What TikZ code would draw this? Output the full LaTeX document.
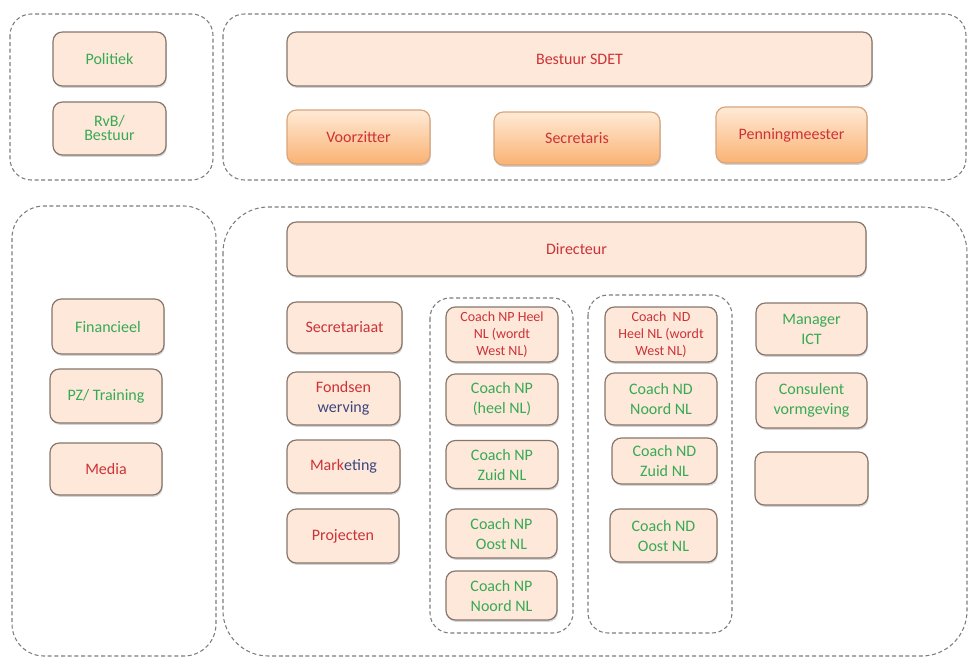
\documentclass[tikz,border=0pt]{standalone}
\usepackage{fontspec}
\setmainfont{Carlito}
\usepackage{xcolor}
\usepackage{tikz}
\usetikzlibrary{shadows,backgrounds}

\definecolor{boxfill}{RGB}{253,232,218}
\definecolor{boxline}{RGB}{135,118,108}
\definecolor{orangetop}{RGB}{255,234,214}
\definecolor{orangebot}{RGB}{250,178,115}
\definecolor{orangeline}{RGB}{215,165,125}
\definecolor{txtgreen}{RGB}{55,170,85}
\definecolor{txtred}{RGB}{205,50,55}
\definecolor{txtblue}{RGB}{60,70,125}
\definecolor{dashgray}{RGB}{125,125,125}

\begin{document}
\begin{tikzpicture}[x=0.75pt, y=-0.75pt,
  unit/.style={draw=boxline, line width=0.9pt, fill=boxfill, rounded corners=7pt, align=center, inner sep=2pt,
    font=\fontsize{12}{15}\selectfont, drop shadow={shadow xshift=0.6pt, shadow yshift=-1.4pt, opacity=0.35}},
  officer/.style={unit, draw=orangeline, top color=orangetop, bottom color=orangebot},
  smalltxt/.style={font=\fontsize{10.5}{12.5}\selectfont},
  group/.style={draw=dashgray, line width=0.8pt, dash pattern=on 3pt off 2pt},
  green/.style={text=txtgreen}, red/.style={text=txtred}]
\useasboundingbox (0,0) rectangle (968,657);

% groepen
\draw[group, rounded corners=16pt] (10,14) rectangle (213,180);
\draw[group, rounded corners=16pt] (223,14) rectangle (966,180);
\draw[group, rounded corners=24pt] (12,206) rectangle (216,656);
\draw[group, rounded corners=34pt] (223,207) rectangle (967,656);
\draw[group, rounded corners=15pt] (430,298) rectangle (573,633);
\draw[group, rounded corners=15pt] (588,295) rectangle (732,633);

% bestuur
\node (politiek) [unit, green, minimum width=84.75pt, minimum height=40.5pt] at (109.5,59) {Politiek};
\node (rvb) [unit, green, minimum width=84.75pt, minimum height=39.75pt, font=\fontsize{12}{10.5}\selectfont] at (109.5,128.5) {RvB/\\Bestuur};
\node (bestuur) [unit, red, minimum width=438.75pt, minimum height=40.5pt] at (579.5,59) {Bestuur SDET};
\node (voorzitter) [officer, red, minimum width=107.25pt, minimum height=40.5pt] at (358.5,137) {Voorzitter};
\node (secretaris) [officer, red, minimum width=124.5pt, minimum height=39.75pt] at (577,138.5) {Secretaris};
\node (penning) [officer, red, minimum width=113.25pt, minimum height=42pt] at (791.5,135) {Penningmeester};

% bureau
\node (directeur) [unit, red, minimum width=434.25pt, minimum height=40.5pt] at (576.5,249) {Directeur};
\node (financieel) [unit, green, minimum width=84pt, minimum height=41.25pt] at (108,326.5) {Financieel};
\node (pz) [unit, green, minimum width=84pt, minimum height=40.5pt] at (106,396) {PZ/ Training};
\node (media) [unit, red, minimum width=84pt, minimum height=39pt] at (106,469) {Media};

\node (secretariaat) [unit, red, minimum width=86.25pt, minimum height=38.25pt] at (344.5,327.5) {Secretariaat};
\node (fondsen) [unit, minimum width=84.75pt, minimum height=39.75pt] at (343.5,398.5) {\textcolor{txtred}{Fondsen}\\\textcolor{txtblue}{werving}};
\node (marketing) [unit, minimum width=84.75pt, minimum height=39.75pt] at (343.5,466.5) {\textcolor{txtred}{Mark}\textcolor{txtblue}{eting}};
\node (projecten) [unit, red, minimum width=84pt, minimum height=40.5pt] at (343,536) {Projecten};

\node (npheel) [unit, red, smalltxt, minimum width=84pt, minimum height=41.25pt] at (502,334.5) {Coach NP Heel\\NL (wordt\\West NL)};
\node (npland) [unit, green, minimum width=84pt, minimum height=38.25pt] at (502,399.5) {Coach NP\\(heel NL)};
\node (npzuid) [unit, green, minimum width=84pt, minimum height=36pt] at (502,464.5) {Coach NP\\Zuid NL};
\node (npoost) [unit, green, minimum width=83.25pt, minimum height=36.75pt] at (501.5,533.5) {Coach NP\\Oost NL};
\node (npnoord) [unit, green, minimum width=83.25pt, minimum height=36.75pt] at (501.5,595.5) {Coach NP\\Noord NL};

\node (ndheel) [unit, red, smalltxt, minimum width=84pt, minimum height=41.25pt] at (661,334.5) {Coach \ ND\\Heel NL (wordt\\West NL)};
\node (ndnoord) [unit, green, minimum width=84pt, minimum height=39pt] at (661,399) {Coach ND\\Noord NL};
\node (ndzuid) [unit, green, minimum width=78.75pt, minimum height=34.5pt] at (664.5,461) {Coach ND\\Zuid NL};
\node (ndoost) [unit, green, minimum width=80.25pt, minimum height=39.75pt] at (663.5,535.5) {Coach ND\\Oost NL};

\node (ict) [unit, green, minimum width=83.25pt, minimum height=39pt] at (811.5,329) {Manager\\ICT};
\node (consulent) [unit, green, minimum width=83.25pt, minimum height=41.25pt] at (811.5,400.5) {Consulent\\vormgeving};
\node (leeg) [unit, minimum width=84.75pt, minimum height=39.75pt] at (811.5,478.5) {};
\end{tikzpicture}
\end{document}
